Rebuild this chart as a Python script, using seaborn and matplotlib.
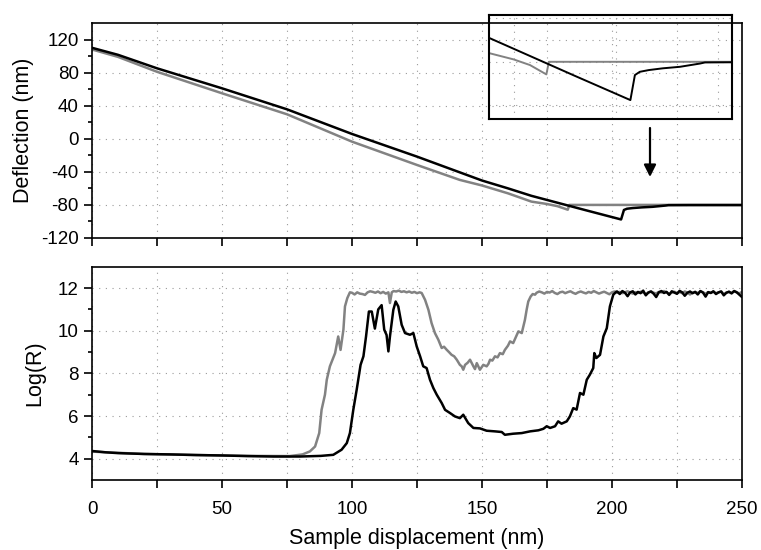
import numpy as np
import matplotlib
matplotlib.use("Agg")
import matplotlib.pyplot as plt
import seaborn as sns

sns.set_style("ticks")
plt.rcParams['font.family'] = ['Liberation Sans', 'DejaVu Sans']
plt.rcParams['text.color'] = 'black'
plt.rcParams['axes.labelcolor'] = 'black'
plt.rcParams['xtick.color'] = 'black'
plt.rcParams['ytick.color'] = 'black'

# ---------------- data ----------------
# Top panel: deflection vs sample displacement
defl_black_x = [0, 10, 25, 50, 75, 100, 125, 150, 160, 169, 175, 190, 203.5,
                204.6, 205.8, 208, 211.4, 215.6, 220.5, 221.7, 230, 250]
defl_black_y = [110, 101.5, 85.2, 61, 35.6, 5.8, -21.6, -50.5, -60, -69, -74, -86.5, -97.6,
                -86.1, -84.6, -83.8, -83.0, -82.3, -80.8, -80.3, -80.2, -80.2]
defl_gray_x = [0, 10, 25, 50, 75, 100, 125, 141.5, 150, 160, 169, 175, 179, 183, 183.6, 250]
defl_gray_y = [108, 99, 81, 55, 29.6, -3.5, -31.7, -49.8, -56.5, -66, -76, -78.9, -81.5, -85.8, -80, -80]

# Bottom panel: Log(R)
logr_gray_x = [0, 20, 40, 60, 76, 81, 83.8, 85.8, 87.4, 88.3, 89.6, 90.3, 91.5, 93.5, 94.7,
               95.6, 96.7, 97.3, 98.2, 99.2,
               100, 101, 102, 103, 104, 105, 106, 107, 108, 109, 110, 111, 112, 113, 114,
               114.6, 115.3, 116, 117, 118, 119, 120, 121, 122, 123, 124, 125, 126, 126.8,
               128.1, 129.4, 130.6, 131.9, 133.2, 134.5, 135.4, 136.4, 137.3, 138.3, 139.3,
               140.3, 141.5, 142.2, 142.8, 143.5, 144.5, 145.4, 146.7, 147.3, 148, 149.2,
               150.5, 151.8, 152.5, 153.1, 154, 155, 156, 156.9, 158, 158.8, 160, 160.8,
               162, 163, 164, 165.3, 166.5, 167.2, 167.8, 168.7, 169.5, 170.4]
logr_gray_y = [4.33, 4.22, 4.17, 4.13, 4.12, 4.2, 4.34, 4.57, 5.2, 6.29, 7.0, 7.7, 8.33, 8.95, 9.73,
               9.1, 10.05, 11.14, 11.53, 11.8,
               11.78, 11.70, 11.80, 11.74, 11.72, 11.68, 11.80, 11.85, 11.82, 11.78, 11.84,
               11.76, 11.82, 11.74, 11.80,
               11.30, 11.80, 11.86, 11.84, 11.88, 11.82, 11.85, 11.80, 11.84, 11.78, 11.82,
               11.76, 11.80, 11.77,
               11.45, 10.98, 10.36, 9.89, 9.58, 9.19, 9.25, 9.11, 9.0, 8.87, 8.8,
               8.64, 8.4, 8.33, 8.17, 8.4, 8.5, 8.64, 8.33, 8.2, 8.48, 8.17,
               8.4, 8.33, 8.45, 8.64, 8.6, 8.8, 8.75, 8.95, 8.9, 9.1, 9.3, 9.5,
               9.42, 9.7, 9.97, 9.89, 10.5, 11.0, 11.37, 11.6, 11.72, 11.69]
# gray plateau, sampled every 1 nm from 171 to 250
logr_gray_plateau = [11.78, 11.84, 11.80, 11.74, 11.82, 11.79, 11.86, 11.77, 11.72, 11.80,
                     11.83, 11.76, 11.81, 11.85, 11.78, 11.73, 11.80, 11.84, 11.79, 11.75,
                     11.82, 11.78, 11.86, 11.80, 11.74, 11.79, 11.83, 11.77, 11.71, 11.80,
                     11.84, 11.78, 11.82, 11.76, 11.80, 11.85, 11.79, 11.74, 11.81, 11.77,
                     11.83, 11.79, 11.72, 11.80, 11.84, 11.78, 11.75, 11.82, 11.79, 11.86,
                     11.80, 11.73, 11.78, 11.83, 11.77, 11.81, 11.76, 11.84, 11.79, 11.70,
                     11.78, 11.82, 11.77, 11.85, 11.80, 11.74, 11.81, 11.78, 11.83, 11.76,
                     11.80, 11.84, 11.72, 11.79, 11.82, 11.77, 11.86, 11.80, 11.75, 11.82]

logr_black_x = [0, 5, 10, 20, 30, 40, 50, 60, 70, 80, 88, 92.8, 96, 98, 99.2, 100.5, 101.8,
                103.3, 104.4, 105.4, 106.5, 107.6, 108.8, 110.1, 111.4, 112.4, 113.3, 114,
                114.6, 115.9, 116.8, 117.8, 119.1, 120.4, 121.3, 122.3, 123.6, 124.9, 126.2,
                127.4, 128.7, 130, 131.3, 132.6, 134.5, 135.8, 137.7, 139.6, 141.5, 142.8,
                144.7, 146.7, 149.2, 151.8, 155, 157.6, 158.8, 162, 165.3, 168.5, 171.7,
                173.6, 174.9, 176.2, 178.1, 179.3, 180.6, 182.6, 183.8, 185.1, 186.4, 187.7,
                189, 190.3, 191.5, 192.8, 193.2, 194, 195.4, 196.7, 198, 199.2, 200.5, 201.8]
logr_black_y = [4.36, 4.3, 4.26, 4.22, 4.2, 4.17, 4.15, 4.12, 4.1, 4.1, 4.13, 4.18, 4.42, 4.73,
                5.2, 6.29, 7.23, 8.4, 8.8, 9.73, 10.9, 10.9, 10.1, 11.0, 11.2, 10.05, 9.8, 9.03,
                9.73, 10.98, 11.37, 11.14, 10.28, 9.89, 9.85, 9.81, 9.89, 9.26, 8.8,
                8.33, 8.25, 7.7, 7.31, 7.0, 6.61, 6.29, 6.14, 5.98, 5.9, 6.06,
                5.67, 5.44, 5.42, 5.31, 5.28, 5.25, 5.12, 5.17, 5.2, 5.28, 5.33,
                5.4, 5.52, 5.44, 5.52, 5.75, 5.64, 5.75, 5.98, 6.37, 6.3, 7.08,
                7.0, 7.7, 7.94, 8.25, 8.95, 8.72, 8.87, 9.73, 10.12, 11.14, 11.69, 11.84]
# black plateau, sampled every 1 nm from 202 to 250
logr_black_plateau = [11.84, 11.72, 11.86, 11.78, 11.62, 11.80, 11.85, 11.70, 11.82, 11.76,
                      11.88, 11.66, 11.79, 11.84, 11.74, 11.58, 11.80, 11.86, 11.77, 11.82,
                      11.68, 11.85, 11.79, 11.73, 11.87, 11.80, 11.64, 11.78, 11.84, 11.76,
                      11.82, 11.70, 11.86, 11.79, 11.60, 11.81, 11.77, 11.85, 11.72, 11.80,
                      11.84, 11.66, 11.78, 11.83, 11.75, 11.86, 11.80, 11.69, 11.58]

x_ticks = [0, 50, 100, 150, 200, 250]
defl_ticks = [-120, -80, -40, 0, 40, 80, 120]
logr_ticks = [4, 6, 8, 10, 12]

# assemble full series
gx = logr_gray_x + list(np.linspace(171, 250, len(logr_gray_plateau)))
gy = logr_gray_y + logr_gray_plateau
bx = logr_black_x + list(np.linspace(202, 250, len(logr_black_plateau)))
by = logr_black_y + logr_black_plateau

GRAY = "#828282"
BLACK = "#000000"
LW = 1.8
TICK_FS = 13.5
LABEL_FS = 15.5

fig = plt.figure(figsize=(7.61, 5.5), dpi=100)
ax1 = fig.add_axes([0.1209, 0.5673, 0.8541, 0.3909])
ax2 = fig.add_axes([0.1209, 0.1273, 0.8541, 0.3877])

grid_kw = dict(color="#9a9a9a", linestyle=(0, (1, 5)), linewidth=0.8)

def style(ax):
    for s in ax.spines.values():
        s.set_linewidth(1.2)
        s.set_color("black")
    ax.tick_params(axis="both", which="major", direction="out", length=6, width=1.2,
                   labelsize=TICK_FS, color="black", labelcolor="black")
    ax.tick_params(axis="x", which="major", pad=9)
    ax.tick_params(axis="y", which="minor", direction="out", length=3, width=1.2, color="black")
    ax.tick_params(axis="x", which="minor", direction="out", length=6, width=1.2, color="black")
    ax.set_xlim(0, 250)
    ax.set_xticks(x_ticks)
    ax.set_xticks([25, 75, 125, 175, 225], minor=True)
    ax.grid(True, which="major", axis="y", **grid_kw)
    ax.grid(True, which="both", axis="x", **grid_kw)
    ax.set_axisbelow(True)

# ---- top panel ----
sns.lineplot(x=defl_gray_x, y=defl_gray_y, ax=ax1, color=GRAY, lw=LW, estimator=None, sort=False)
sns.lineplot(x=defl_black_x, y=defl_black_y, ax=ax1, color=BLACK, lw=LW, estimator=None, sort=False)
style(ax1)
ax1.set_ylim(-120, 140)
ax1.set_yticks(defl_ticks)
ax1.set_yticks(np.arange(-100, 140, 40), minor=True)
ax1.set_yticklabels([str(t) for t in defl_ticks])
ax1.tick_params(axis="x", labelbottom=False)
ax1.set_ylabel("Deflection (nm)", fontsize=LABEL_FS, labelpad=5)
ax1.set_xlabel("")

# ---- bottom panel ----
sns.lineplot(x=gx, y=gy, ax=ax2, color=GRAY, lw=LW, estimator=None, sort=False)
sns.lineplot(x=bx, y=by, ax=ax2, color=BLACK, lw=LW, estimator=None, sort=False)
style(ax2)
ax2.set_ylim(3, 13)
ax2.set_yticks(logr_ticks)
ax2.set_yticks([5, 7, 9, 11], minor=True)
ax2.set_ylabel("Log(R)", fontsize=LABEL_FS, labelpad=9)
ax2.set_xlabel("Sample displacement (nm)", fontsize=LABEL_FS, labelpad=7)

# ---- inset ----
axi = fig.add_axes([0.6426, 0.7836, 0.3193, 0.1891])
axi.patch.set_alpha(0)
sns.lineplot(x=defl_gray_x, y=defl_gray_y, ax=axi, color=GRAY, lw=1.4, estimator=None, sort=False)
sns.lineplot(x=defl_black_x, y=defl_black_y, ax=axi, color=BLACK, lw=1.4, estimator=None, sort=False)
axi.set_xlim(169, 228.3)
axi.set_ylim(-106.3, -58.5)
axi.set_xticks([175, 200, 225])
axi.set_yticks([-100, -80, -60])
axi.grid(True, **grid_kw)
axi.tick_params(left=False, bottom=False, labelleft=False, labelbottom=False)
axi.set_xlabel("")
axi.set_ylabel("")
for s in axi.spines.values():
    s.set_linewidth(1.5)
    s.set_color("black")

# arrow
ax1.annotate("", xy=(650 / 761, 1 - 177 / 550), xytext=(650 / 761, 1 - 128 / 550),
             xycoords="figure fraction", textcoords="figure fraction",
             arrowprops=dict(arrowstyle="-|>", color="black", lw=1.6, mutation_scale=18,
                             shrinkA=0, shrinkB=0))

fig.savefig("out.png", dpi=100)
